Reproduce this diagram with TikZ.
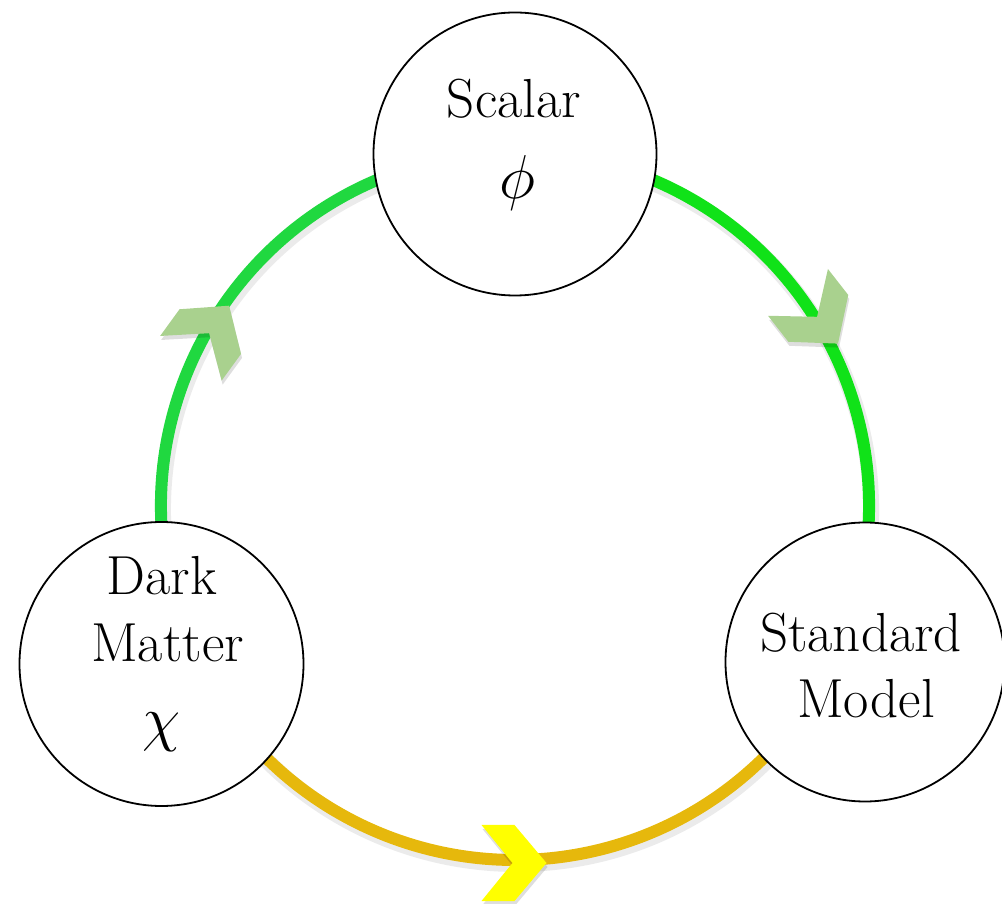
\RequirePackage{fix-cm}
\documentclass[tikz,border=0pt]{standalone}
\usepackage{fontspec}
\usetikzlibrary{calc}

\definecolor{greenA}{RGB}{32,216,64}
\definecolor{greenB}{RGB}{16,226,24}
\definecolor{gold}{RGB}{230,184,12}
\definecolor{chevgreen}{RGB}{169,209,142}
\definecolor{chevyellow}{RGB}{255,255,0}

\tikzset{
  chevron/.pic={
    \path[pic actions] (-32.5,38) -- (0.5,38) -- (32.5,0) -- (0.5,-38)
      -- (-32.5,-38) -- (-1.5,0) -- cycle;
  },
}

\begin{document}
\begin{tikzpicture}[x=1pt,y=1pt,
  bubble/.style={circle,draw=black,line width=1.8pt,fill=white,inner sep=0pt},
  wordlabel/.style={font=\rmfamily\fontsize{55}{60}\selectfont,inner sep=0pt,anchor=base},
  symlabel/.style={font=\fontsize{62}{70}\selectfont,inner sep=0pt},
  ringline/.style={line width=12pt},
  ringshadow/.style={line width=16pt,draw=black,opacity=.08},
  chevshadow/.style={fill=black,fill opacity=.13},
]
\useasboundingbox (0,0) rectangle (1002,903);
\coordinate (hub) at (515,397);
\def\R{354}

% soft shadows under the ring
\draw[ringshadow] ($(hub)+(190:\R)+(2,-4)$) arc[start angle=190,end angle=100,radius=\R];
\draw[ringshadow] ($(hub)+(80:\R)+(2,-4)$) arc[start angle=80,end angle=-10,radius=\R];
\draw[ringshadow] ($(hub)+(215:\R)+(2,-4)$) arc[start angle=215,end angle=325,radius=\R];

% the ring: two green arcs and the gold one
\draw[ringline,greenA] ($(hub)+(190:\R)$) arc[start angle=190,end angle=100,radius=\R];
\draw[ringline,greenB] ($(hub)+(80:\R)$) arc[start angle=80,end angle=-10,radius=\R];
\draw[ringline,gold] ($(hub)+(215:\R)$) arc[start angle=215,end angle=325,radius=\R];

% the three particle bubbles
\node[bubble,minimum size=283pt] (scalar) at (515,749) {};
\node[bubble,minimum size=284pt] (dm) at (161.5,239) {};
\node[bubble,minimum size=279pt] (sm) at (865,241) {};

% direction chevrons with their shadows
\pic[chevshadow,rotate=54] at (211,567) {chevron};
\pic[fill=chevgreen,rotate=54] (upchev) at (210,571) {chevron};
\pic[chevshadow,rotate=-52] at (819,581) {chevron};
\pic[fill=chevgreen,rotate=-52] (downchev) at (818,585) {chevron};
\pic[chevshadow] at (515,36) {chevron};
\pic[fill=chevyellow] (rightchev) at (514,40) {chevron};

% labels
\node[wordlabel] (scalarname) at (514,785) {Scalar};
\node[symlabel] (phi) at (517,720) {$\phi$};
\node[wordlabel] (dark) at (162,308) {Dark};
\node[wordlabel] (matter) at (167.5,241) {Matter};
\node[symlabel] (chi) at (162,171) {$\chi$};
\node[wordlabel] (standard) at (861,251) {Standard};
\node[wordlabel] (model) at (866,185) {Model};
\end{tikzpicture}
\end{document}
